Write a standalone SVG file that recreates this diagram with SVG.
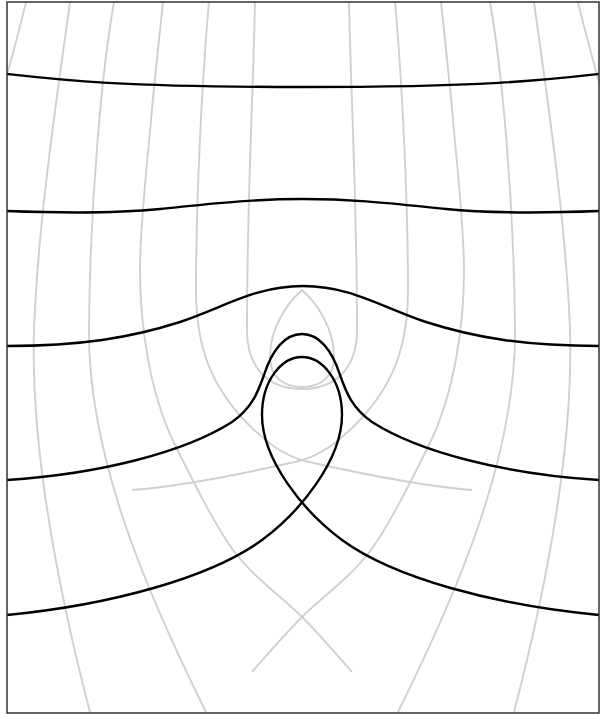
<svg xmlns="http://www.w3.org/2000/svg" xmlns:xlink="http://www.w3.org/1999/xlink" width="601" height="714" viewBox="0 0 601 714">
<style>
.g{fill:none;stroke:#d0d0d0;stroke-width:1.9}
.k{fill:none;stroke:#000;stroke-width:2.4}
.frame{fill:none;stroke:#333;stroke-width:1.5}
</style>
<defs>
<clipPath id="fr"><rect x="7" y="2" width="592" height="711"/></clipPath>
<g id="half">
<path d="M28,-6 Q17,40 0,100"/>
<path d="M70,2 C58,90 38,220 34,330 C31,430 50,560 92,720"/>
<path d="M114,2 C102,70 90,200 89,330 C88,460 150,600 210,720"/>
<path d="M163,2 C161,22 155,75 151,120 C147,165 140,227 140,270 C140,320 148,390 175,445 C195,485 215,525 233,550 C254,578 282,597 302,617 C322,637 344,663 352,672"/>
<path d="M209,2 C202,80 196,200 196,290 C196,345 210,385 247,423 C265,441 282,455 305,461 C340,469 420,486 472,490"/>
</g>
</defs>
<rect width="601" height="714" fill="#fff"/>
<g id="grid" class="g" clip-path="url(#fr)">
<use xlink:href="#half" href="#half"/>
<use xlink:href="#half" href="#half" transform="matrix(-1 0 0 1 604 0)"/>
<path id="u-curve" d="M255,2 C253,100 247,200 247,330 C247,370 270,389 302,389 C334,389 357,370 357,330 C357,200 351,100 349,2"/>
<path id="lens" d="M302,290 C285,305 270,330 270,357 C270,378 285,387 302,387 C319,387 334,378 334,357 C334,330 319,305 302,290 Z"/>
</g>
<g id="curves" class="k">
<path d="M7,74 C60,80 120,87 303,87 C486,87 546,80 599,74"/>
<path d="M7,211 C60,213 110,214 160,209 C210,204 250,199 303,199 C356,199 396,204 446,209 C496,214 546,213 599,211"/>
<path d="M7,346 C80,346 130,338 180,322 C225,307 255,286 303,286 C351,286 381,307 426,322 C476,338 526,346 599,346"/>
<path d="M7,480 C100,474 185,452 232,422 C252,408 258,392 264,375 C272,350 285,334 302,334 C319,334 332,350 340,375 C346,392 352,408 372,422 C419,452 504,474 599,480"/>
<path d="M7,615 C110,605 210,578 262,540 C300,512 342,460 342,415 C342,380 322,357 302,357 C282,357 262,380 262,415 C262,460 304,512 342,540 C394,578 494,605 599,615"/>
</g>
<rect class="frame" x="7" y="2" width="592" height="711"/>
</svg>
